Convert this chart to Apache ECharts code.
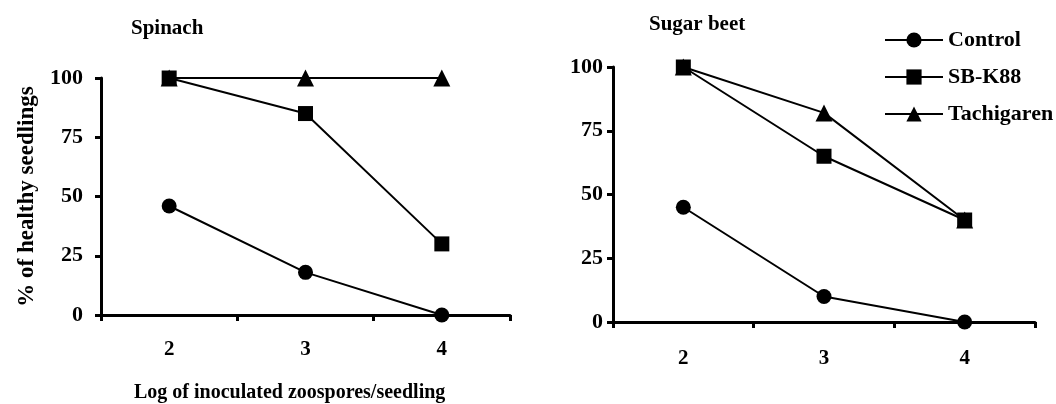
<!DOCTYPE html>
<html>
<head>
<meta charset="utf-8">
<script src="https://cdn.jsdelivr.net/npm/echarts@6/dist/echarts.min.js"></script>
<style>
  html, body { margin: 0; padding: 0; background: #fff; }
  #chart { width: 1056px; height: 404px; }
</style>
</head>
<body>
<div id="chart"></div>
<script>
// x categories: log of inoculated zoospores per seedling
const doses = ["2", "3", "4"];

// % of healthy seedlings, spinach
const spinachControl = [46, 18, 0];
const spinachSBK88 = [100, 85, 30];
const spinachTachigaren = [100, 100, 100];

// % of healthy seedlings, sugar beet
const beetControl = [45, 10, 0];
const beetSBK88 = [100, 65, 40];
const beetTachigaren = [100, 82, 40];

const yTicks = [0, 25, 50, 75, 100];

const font = "Liberation Serif";
const txt = { color: "#000", fontFamily: font, fontWeight: "bold" };

function xAxis(idx, margin) {
    return {
        type: "category", gridIndex: idx, data: doses, boundaryGap: true,
        axisLine: { lineStyle: { color: "#000", width: 3 } },
        axisTick: { show: true, interval: 0, length: 6, lineStyle: { color: "#000", width: 3 } },
        axisLabel: Object.assign({ fontSize: 21, margin: margin }, txt),
        splitLine: { show: false }
    };
}

function yAxis(idx, name, margin) {
    return {
        type: "value", gridIndex: idx, min: yTicks[0], max: yTicks[yTicks.length - 1], interval: 25,
        name: name, nameLocation: "middle", nameGap: 62,
        nameTextStyle: Object.assign({ fontSize: 23 }, txt),
        axisLine: { show: true, lineStyle: { color: "#000", width: 3 } },
        axisTick: { show: true, length: 6, lineStyle: { color: "#000", width: 3 } },
        axisLabel: Object.assign({ fontSize: 22, margin: margin }, txt),
        splitLine: { show: false }
    };
}

function line(name, data, symbol, idx) {
    return {
        name: name, type: "line", data: data,
        xAxisIndex: idx, yAxisIndex: idx,
        symbol: symbol, symbolSize: symbol === "triangle" ? 17 : 15,
        lineStyle: { color: "#000", width: 2 },
        itemStyle: { color: "#000" },
        emphasis: { disabled: true },
        animation: false
    };
}

const chart = echarts.init(document.getElementById("chart"));
chart.setOption({
    backgroundColor: "#fff",
    animation: false,
    title: [
        { text: "Spinach", left: 126, top: 13, textStyle: Object.assign({ fontSize: 21 }, txt) },
        { text: "Sugar beet", left: 644, top: 9, textStyle: Object.assign({ fontSize: 21 }, txt) },
        { text: "Log of inoculated zoospores/seedling", left: 129, top: 378, textStyle: Object.assign({ fontSize: 20 }, txt) }
    ],
    legend: {
        orient: "vertical", left: 879, top: 24,
        itemWidth: 58, itemHeight: 19, itemGap: 15,
        textStyle: Object.assign({ fontSize: 22 }, txt),
        data: ["Control", "SB-K88", "Tachigaren"]
    },
    grid: [
        { left: 101, top: 78, width: 409, height: 237 },
        { left: 613, top: 67, width: 422, height: 255 }
    ],
    xAxis: [xAxis(0, 24), xAxis(1, 26)],
    yAxis: [yAxis(0, "% of healthy seedlings", 18), yAxis(1, "", 10)],
    series: [
        line("Control", spinachControl, "circle", 0),
        line("SB-K88", spinachSBK88, "rect", 0),
        line("Tachigaren", spinachTachigaren, "triangle", 0),
        line("Control", beetControl, "circle", 1),
        line("Tachigaren", beetTachigaren, "triangle", 1),
        line("SB-K88", beetSBK88, "rect", 1)
    ]
});
</script>
</body>
</html>
